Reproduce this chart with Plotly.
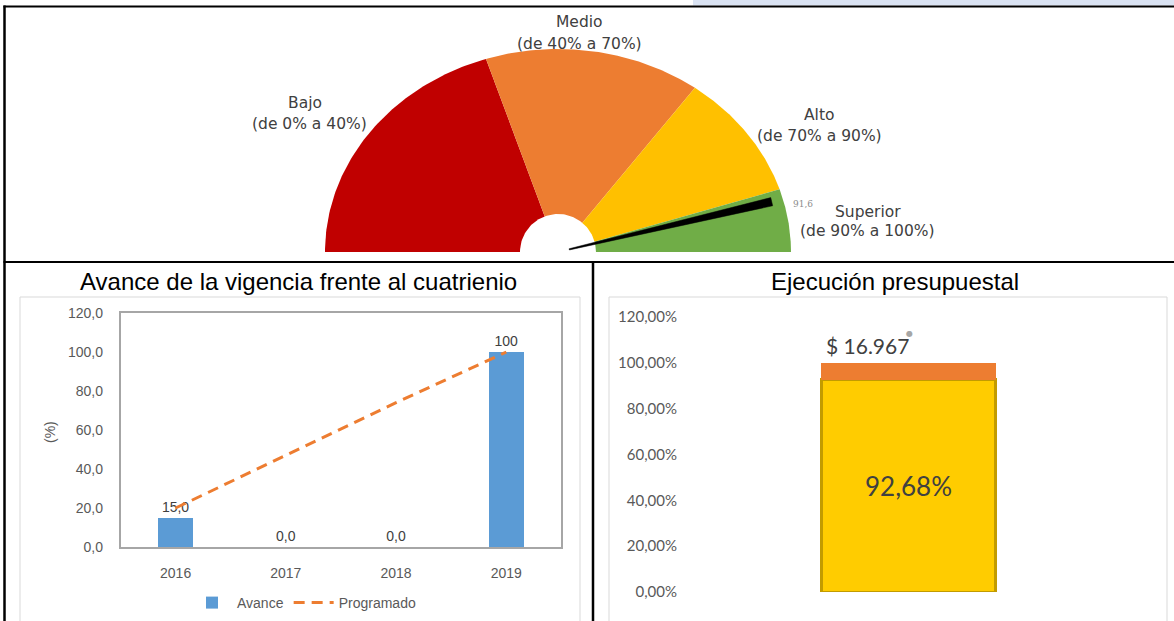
import numpy as np
import plotly.graph_objects as go

W, H = 1174, 621

# Semáforo de cumplimiento
rangos = ["Bajo", "Medio", "Alto", "Superior"]
rango_texto = ["(de 0% a 40%)", "(de 40% a 70%)", "(de 70% a 90%)", "(de 90% a 100%)"]
limites = [0, 40, 70, 90, 100]
colores_rango = ["#C00000", "#ED7D31", "#FFC000", "#70AD47"]
cumplimiento = 91.6
cumplimiento_txt = "91,6"

# Avance de la vigencia frente al cuatrienio
anios = ["2016", "2017", "2018", "2019"]
avance = [15.0, 0.0, 0.0, 100.0]
avance_txt = ["15,0", "0,0", "0,0", "100"]
programado = [20.0, 47.0, 74.0, 100.0]
ticks_avance = [0, 20, 40, 60, 80, 100, 120]

# Ejecución presupuestal
ejecutado = [92.68]
meta = [100.0]
valor_pesos = "$ 16.967"
ticks_ejec = [0, 20, 40, 60, 80, 100, 120]


def px(x):
    return x / W


def py(y):
    return 1 - y / H


def pct(v):
    return f"{v:.2f}".replace(".", ",") + "%"


fig = go.Figure()

# ---------- semáforo (semi-elipse) ----------
CX, CY, RX, RY = 558, 252, 233, 203
R_IN_X, R_IN_Y = 38 / RX, 38 / RY


def ang(v):
    return np.pi * (1 - v / 100.0)


for i, nombre in enumerate(rangos):
    t = np.linspace(ang(limites[i]), ang(limites[i + 1]), 80)
    xs = np.concatenate([[0], np.cos(t), [0]])
    ys = np.concatenate([[0], np.sin(t), [0]])
    fig.add_trace(go.Scatter(
        x=xs, y=ys, mode="lines", fill="toself", fillcolor=colores_rango[i],
        line=dict(width=0, color=colores_rango[i]), hoverinfo="skip",
        showlegend=False, xaxis="x3", yaxis="y3", name=nombre))

# centro blanco
t = np.linspace(0, np.pi, 80)
fig.add_trace(go.Scatter(
    x=np.concatenate([R_IN_X * np.cos(t), [R_IN_X]]),
    y=np.concatenate([R_IN_Y * np.sin(t), [0]]),
    mode="lines", fill="toself", fillcolor="white", line=dict(width=0, color="white"),
    hoverinfo="skip", showlegend=False, xaxis="x3", yaxis="y3"))

# aguja en el valor de cumplimiento (calculada en píxeles y llevada a unidades del eje)
ta = ang(cumplimiento)
tip = np.array([RX * 0.95 * np.cos(ta), RY * 0.95 * np.sin(ta)])
base = np.array([RX * 0.05 * np.cos(ta), RY * 0.05 * np.sin(ta)])
d = tip - base
n = np.array([-d[1], d[0]]) / np.hypot(*d)
poly = np.array([base + n * 0.6, tip + n * 4.2, tip - n * 4.2, base - n * 0.6, base + n * 0.6])
fig.add_trace(go.Scatter(
    x=poly[:, 0] / RX, y=poly[:, 1] / RY, mode="lines", fill="toself",
    fillcolor="#000000", line=dict(width=0.5, color="#000000"),
    hoverinfo="skip", showlegend=False, xaxis="x3", yaxis="y3"))

# ---------- avance de la vigencia ----------
fig.add_trace(go.Bar(
    x=anios, y=avance, name="Avance", width=0.313,
    marker=dict(color="#5B9BD5", line=dict(width=0)),
    text=avance_txt, textposition="outside", cliponaxis=False,
    textfont=dict(family="Liberation Sans, Arial, sans-serif", size=14, color="#404040"),
    xaxis="x", yaxis="y"))
fig.add_trace(go.Scatter(
    x=anios, y=programado, name="Programado", mode="lines",
    line=dict(color="#ED7D31", width=3, dash="11px,7px"),
    xaxis="x", yaxis="y"))

# ---------- ejecución presupuestal ----------
fig.add_trace(go.Bar(
    x=[0], y=ejecutado, width=0.4, showlegend=False,
    marker=dict(color="#FFCC00", line=dict(color="#C29B00", width=3)),
    text=[pct(ejecutado[0])],
    textposition="inside", insidetextanchor="middle", textangle=0,
    textfont=dict(family="Lato, Calibri, sans-serif", size=26, color="#404040"),
    xaxis="x2", yaxis="y2"))
fig.add_trace(go.Bar(
    x=[0], y=[m - e for m, e in zip(meta, ejecutado)], width=0.4, showlegend=False,
    marker=dict(color="#ED7D31", line=dict(width=0)),
    xaxis="x2", yaxis="y2"))

tick_font = dict(family="Liberation Sans, Arial, sans-serif", size=14, color="#595959")
tick_font_r = dict(family="Lato, Calibri, sans-serif", size=15, color="#595959")

fig.update_layout(
    width=W, height=H, autosize=False,
    margin=dict(l=0, r=0, t=0, b=0),
    paper_bgcolor="white", plot_bgcolor="white",
    template="none",
    separators=",.",
    barmode="stack",
    showlegend=True,
    legend=dict(orientation="h", x=px(304), y=py(603), xanchor="center", yanchor="middle",
                traceorder="normal",
                font=dict(family="Liberation Sans, Arial, sans-serif", size=14, color="#595959"),
                itemwidth=40, bgcolor="rgba(0,0,0,0)"),
    xaxis=dict(domain=[px(120.5), px(561.4)], type="category", range=[-0.5, 3.5],
               showgrid=False, zeroline=False, showline=True, mirror=True,
               linecolor="#A6A6A6", linewidth=1.5, ticks="", tickfont=tick_font,
               ticklabelstandoff=12, fixedrange=True),
    yaxis=dict(domain=[py(547), py(313)], range=[0, 120], tickvals=ticks_avance,
               ticktext=[f"{v:.1f}".replace(".", ",") for v in ticks_avance],
               showgrid=False, zeroline=False, showline=True, mirror=True,
               linecolor="#A6A6A6", linewidth=1.5, ticks="", tickfont=tick_font,
               ticklabelstandoff=13, fixedrange=True),
    xaxis2=dict(domain=[px(690), px(1127)], range=[-0.5, 0.5], visible=False,
                showgrid=False, zeroline=False, fixedrange=True, anchor="y2"),
    yaxis2=dict(domain=[py(592), py(317)], range=[0, 120], tickvals=ticks_ejec,
                ticktext=[pct(v) for v in ticks_ejec], showgrid=False, zeroline=False,
                showline=False, ticks="", tickfont=tick_font_r, ticklabelstandoff=12,
                fixedrange=True, anchor="x2"),
    xaxis3=dict(domain=[px(CX - 1.5 * RX), px(CX + 1.5 * RX)], range=[-1.5, 1.5],
                visible=False, fixedrange=True, anchor="y3"),
    yaxis3=dict(domain=[py(CY), py(CY - 1.1 * RY)], range=[0, 1.1],
                visible=False, fixedrange=True, anchor="x3"),
)


def label(x, y, text, font, **kw):
    return dict(x=px(x), y=py(y), text=text, showarrow=False, xref="paper", yref="paper",
                xanchor="center", yanchor="middle", font=font, **kw)


gauge_font = dict(family="DejaVu Sans, Arial, sans-serif", size=15.5, color="#404040")
annotations = []
pos_rangos = [(305, 103, 309, 124), (579, 22, 579, 44), (819, 115, 819, 136), (868, 212, 867, 231)]
for nombre, texto, (x1, y1, x2, y2) in zip(rangos, rango_texto, pos_rangos):
    annotations.append(label(x1, y1, nombre, gauge_font))
    annotations.append(label(x2, y2, texto, gauge_font))
annotations.append(label(803, 204, cumplimiento_txt,
                         dict(family="DejaVu Serif, serif", size=9, color="#8C8C8C")))

title_font = dict(family="Liberation Sans, Arial, sans-serif", size=24, color="#000000")
annotations.append(label(298.5, 281, "Avance de la vigencia frente al cuatrienio", title_font))
annotations.append(label(895, 281, "Ejecución presupuestal", title_font))
annotations.append(label(50, 432, "(%)", tick_font, textangle=-90))
annotations.append(label(867, 345, valor_pesos,
                         dict(family="Lato, Calibri, sans-serif", size=21, color="#404040")))
annotations.append(label(909, 333, "●",
                         dict(family="DejaVu Sans, sans-serif", size=8, color="#A6A6A6")))
fig.update_layout(annotations=annotations)

shapes = [
    # franja azul superior derecha
    dict(type="rect", xref="paper", yref="paper", x0=px(693), x1=1, y0=py(5.5), y1=1,
         fillcolor="#DAE3F3", line=dict(width=0), layer="below"),
    # marcos grises de los gráficos inferiores
    dict(type="rect", xref="paper", yref="paper", x0=px(20), x1=px(580), y0=py(630), y1=py(297),
         line=dict(color="#D9D9D9", width=1), fillcolor="rgba(0,0,0,0)", layer="below"),
    dict(type="rect", xref="paper", yref="paper", x0=px(609), x1=px(1167), y0=py(630), y1=py(297),
         line=dict(color="#D9D9D9", width=1), fillcolor="rgba(0,0,0,0)", layer="below"),
    # bordes de la tabla
    dict(type="line", xref="paper", yref="paper", x0=px(3.5), x1=1, y0=py(6.5), y1=py(6.5),
         line=dict(color="#000000", width=2)),
    dict(type="line", xref="paper", yref="paper", x0=px(4.5), x1=px(4.5), y0=py(5.5), y1=0,
         line=dict(color="#000000", width=2.5)),
    dict(type="line", xref="paper", yref="paper", x0=px(3.5), x1=1, y0=py(262), y1=py(262),
         line=dict(color="#000000", width=2)),
    dict(type="line", xref="paper", yref="paper", x0=px(593), x1=px(593), y0=py(261), y1=0,
         line=dict(color="#000000", width=2.5)),
]
fig.update_layout(shapes=shapes)

fig.write_html("out.html", config={"displayModeBar": False})
